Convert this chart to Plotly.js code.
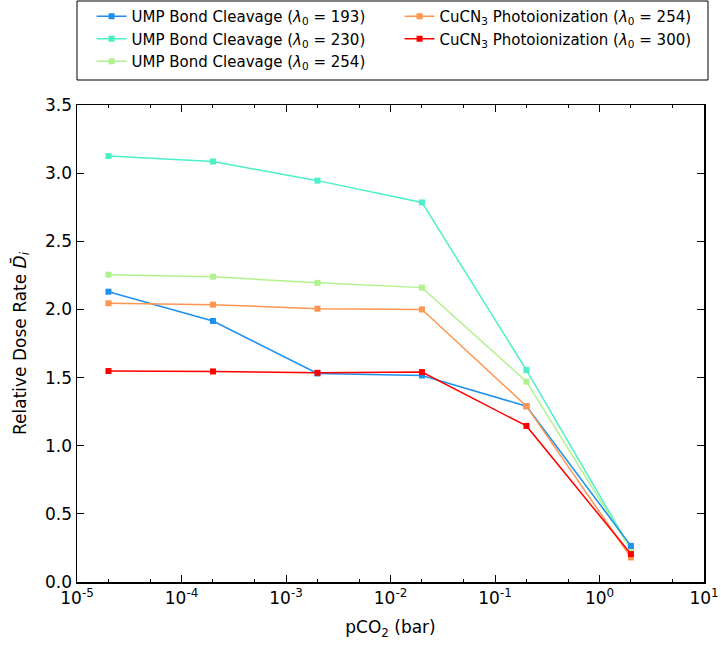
<!DOCTYPE html>
<html><head><meta charset="utf-8">
<script src="https://cdn.plot.ly/plotly-3.0.1.min.js"></script>
<style>body{margin:0;padding:0;background:#fff}#chart{width:721px;height:645px}</style>
</head><body><div id="chart"></div>
<script>
const pco2 = [2e-5, 2e-4, 2e-3, 2e-2, 2e-1, 2];
const ump193 = [2.13, 1.915, 1.53, 1.515, 1.29, 0.265];
const ump230 = [3.125, 3.085, 2.945, 2.785, 1.555, 0.24];
const ump254 = [2.255, 2.24, 2.195, 2.16, 1.47, 0.235];
const cu254 = [2.045, 2.035, 2.005, 2.0, 1.29, 0.18];
const cu300 = [1.548, 1.545, 1.535, 1.54, 1.145, 0.205];
const names = [
  'UMP Bond Cleavage (<i>λ</i><sub>0</sub> = 193)',
  'CuCN<sub>3</sub> Photoionization (<i>λ</i><sub>0</sub> = 254)',
  'UMP Bond Cleavage (<i>λ</i><sub>0</sub> = 230)',
  'CuCN<sub>3</sub> Photoionization (<i>λ</i><sub>0</sub> = 300)',
  'UMP Bond Cleavage (<i>λ</i><sub>0</sub> = 254)'
];
const colors = ['#1e90f0', '#ff9650', '#4cf0c8', '#ff0000', '#b2f28c'];
const series = [ump193, cu254, ump230, cu300, ump254];
const drawOrder = [2, 4, 0, 1, 3];
const tickVals = [1e-5, 1e-4, 1e-3, 1e-2, 1e-1, 1, 10];
const tickText = ['10<sup>-5</sup>', '10<sup>-4</sup>', '10<sup>-3</sup>', '10<sup>-2</sup>', '10<sup>-1</sup>', '10<sup>0</sup>', '10<sup>1</sup>'];

const traces = series.map((s, i) => ({
  x: pco2, y: s, name: names[i], type: 'scatter', mode: 'lines+markers',
  line: {color: colors[i], width: 1.5},
  marker: {symbol: 'square', size: 6, color: colors[i]},
  legendrank: i + 1
}));
const data = drawOrder.map(i => traces[i]);

const layout = {
  width: 721, height: 645,
  margin: {l: 77, r: 17, t: 105, b: 63},
  paper_bgcolor: '#fff', plot_bgcolor: '#fff',
  font: {family: 'DejaVu Sans', size: 15, color: '#000'},
  showlegend: true,
  legend: {
    orientation: 'h', xref: 'container', yref: 'container',
    x: 0.127, xanchor: 'left', y: 1.0, yanchor: 'top',
    entrywidth: 263, entrywidthmode: 'pixels',
    borderwidth: 0, bgcolor: 'rgba(0,0,0,0)',
    font: {size: 15}, traceorder: 'normal'
  },
  shapes: [{
    type: 'rect', xref: 'paper', yref: 'paper',
    x0: 0, x1: 1.0064, y0: 1 + 25 / 477, y1: 1 + 104 / 477,
    line: {color: '#000', width: 1}, fillcolor: 'rgba(0,0,0,0)'
  }],
  xaxis: {
    type: 'log', range: [-5, 1],
    tickvals: tickVals, ticktext: tickText,
    ticks: 'inside', ticklen: 7, tickwidth: 1, tickcolor: '#000',
    showline: true, linecolor: '#000', linewidth: 1.5, mirror: 'allticks',
    showgrid: false, zeroline: false,
    minor: {ticks: 'inside', ticklen: 3, tickcolor: '#000', showgrid: false},
    title: {text: 'pCO<sub>2</sub> (bar)', font: {size: 17}, standoff: 14},
    tickfont: {size: 17}
  },
  yaxis: {
    range: [0, 3.5], dtick: 0.5, tickformat: '.1f',
    ticks: 'inside', ticklen: 7, tickwidth: 1, tickcolor: '#000',
    showline: true, linecolor: '#000', linewidth: 1.5, mirror: 'allticks',
    showgrid: false, zeroline: false,
    title: {text: 'Relative Dose Rate <i>D̄</i><sub><i>i</i></sub>', font: {size: 17}, standoff: 14},
    tickfont: {size: 17}
  }
};
Plotly.newPlot('chart', data, layout, {displayModeBar: false, staticPlot: true});
</script></body></html>
